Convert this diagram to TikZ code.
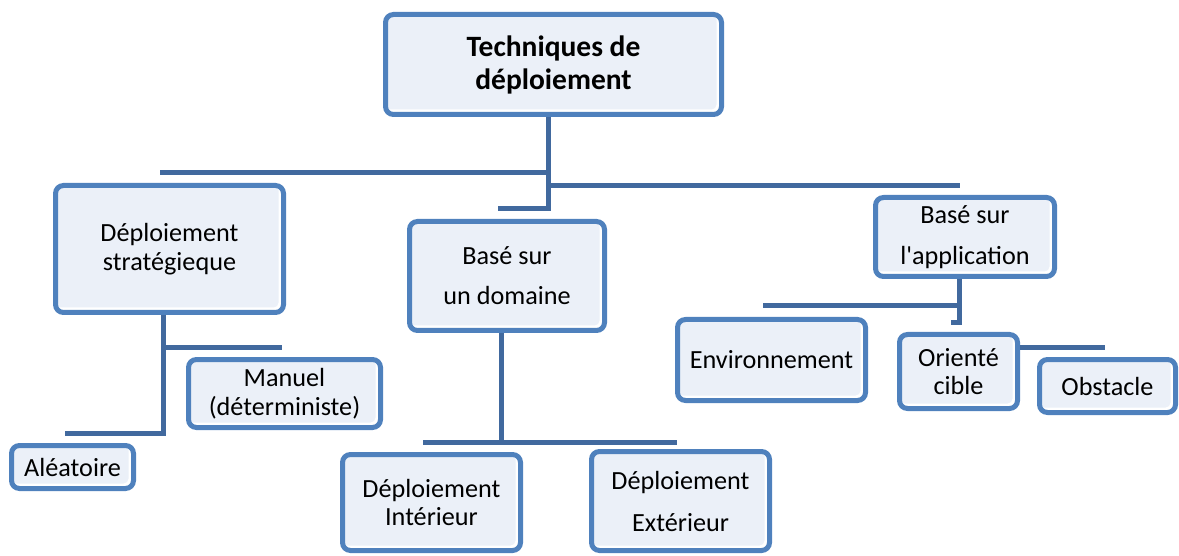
\documentclass[tikz,border=0pt]{standalone}
\usepackage{fontspec}
\setmainfont{Carlito}
\definecolor{boxblue}{HTML}{4F81BD}
\definecolor{linkblue}{HTML}{41699E}
\definecolor{boxfill}{HTML}{EBF0F8}
\tikzset{
  box/.style={draw=boxblue, line width=5pt, rounded corners=8pt, fill=white,
    inner sep=0pt, align=center, font=\fontsize{26.2}{28.5}\selectfont,
    path picture={\fill[boxfill, rounded corners=5pt]
      (path picture bounding box.north west) rectangle
      ([shift={(-5pt,5pt)}]path picture bounding box.south east);}},
  titlebox/.style={box, font=\fontsize{29.5}{33}\selectfont\bfseries},
  conn/.style={draw=linkblue, line width=5pt}
}
\begin{document}
\begin{tikzpicture}[x=1pt,y=-1pt]
\useasboundingbox (0,0) rectangle (1179,556);

% boxes
\node[titlebox, minimum width=336pt, minimum height=100pt] (top) at (553.5,64.5) {Techniques de\\déploiement};
\node[box, minimum width=228pt, minimum height=127pt] (strat) at (169.5,249) {Déploiement\\stratégieque};
\node[box, minimum width=192pt, minimum height=68pt] (manuel) at (284.5,393.5) {Manuel\\[1pt](déterministe)};
\node[box, minimum width=122pt, minimum height=43pt] (alea) at (72.5,467) {Aléatoire};
\node[box, minimum width=195pt, minimum height=109pt] (domaine) at (507,276) {Basé sur\\[11.5pt]un domaine};
\node[box, minimum width=178pt, minimum height=96pt] (inter) at (431.5,502.5) {Déploiement\\Intérieur};
\node[box, minimum width=178pt, minimum height=99pt] (exter) at (680.5,501) {Déploiement\\[13.5pt]Extérieur};
\node[box, minimum width=179pt, minimum height=79pt] (appli) at (965,237) {Basé sur\\[12.5pt]l\textquotesingle application};
\node[box, minimum width=188pt, minimum height=81pt] (env) at (771.5,360) {Environnement};
\node[box, minimum width=118pt, minimum height=74pt] (orient) at (958.5,371.5) {Orienté\\cible};
\node[box, minimum width=136pt, minimum height=53pt] (obst) at (1107.5,386) {Obstacle};

% junction points and free ends of the connectors
\coordinate (trunk) at (548,209);
\coordinate (domstub) at (498,209);
\coordinate (busL) at (160,173);
\coordinate (busR) at (960,186);
\coordinate (sJ) at (163,433);
\coordinate (aleaEnd) at (65,433);
\coordinate (manEnd) at (282,347);
\coordinate (dJ) at (501,442);
\coordinate (dL) at (423,442);
\coordinate (dR) at (677,442);
\coordinate (aJ) at (959,323);
\coordinate (aHook) at (951,323);
\coordinate (envEnd) at (763,306);
\coordinate (obEnd) at (1105,347);

% connectors
\draw[conn] (top.south -| trunk) -- (trunk) -- (domstub);
\draw[conn] (busL) -- (busL -| trunk);
\draw[conn] (busR -| trunk) -- (busR);
\draw[conn] (strat.south -| sJ) -- (sJ) -- (aleaEnd);
\draw[conn] (manEnd -| sJ) -- (manEnd);
\draw[conn] (domaine.south -| dJ) -- (dJ);
\draw[conn] (dL) -- (dR);
\draw[conn] (appli.south -| aJ) -- (aJ) -- (aHook);
\draw[conn] (envEnd) -- (envEnd -| aJ);
\draw[conn] (orient.east |- obEnd) -- (obEnd);
\end{tikzpicture}
\end{document}
